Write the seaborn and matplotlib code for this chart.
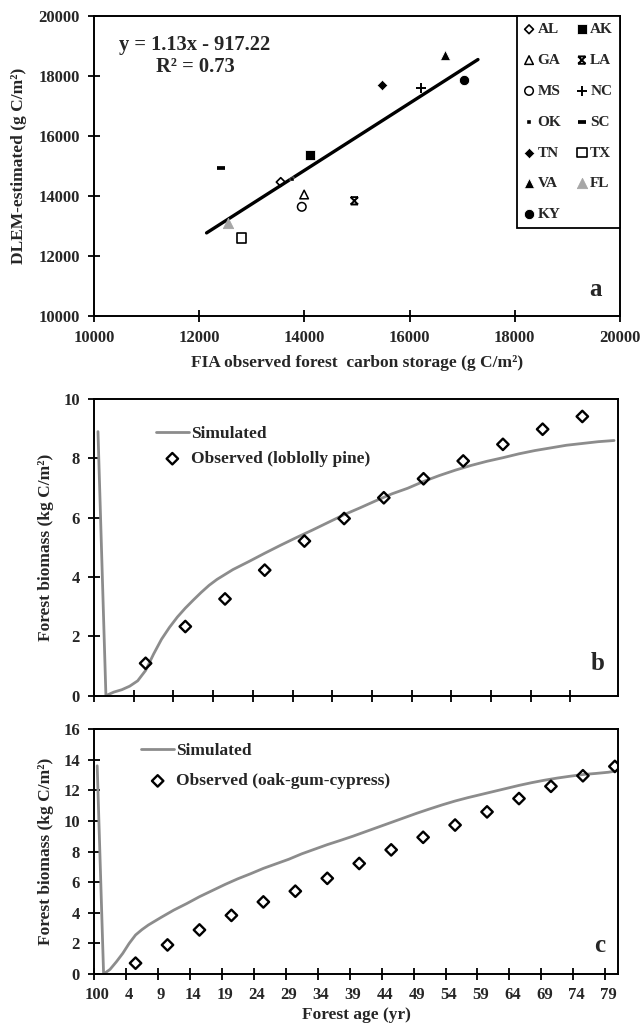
import matplotlib
matplotlib.use('Agg')
import matplotlib.pyplot as plt
from matplotlib.path import Path
import pandas as pd
import seaborn as sns

# Panel a: FIA observed vs DLEM-estimated carbon storage by state (g C/m2)
states = ['AL', 'AK', 'GA', 'LA', 'MS', 'NC', 'OK', 'SC', 'TN', 'TX', 'VA', 'FL', 'KY']
fia_obs = [13550, 14100, 13995, 14950, 13950, 16225, 13760, 12405, 15475, 12805, 16670, 12540, 17040]
dlem_est = [14455, 15345, 14040, 13830, 13630, 17605, 14545, 14920, 17695, 12595, 18675, 13100, 17850]
fit_x = [12140, 17300]
fit_y = [12760, 18540]
fit_text = 'y = 1.13x - 917.22\nR\u00b2 = 0.73'

# Panels b and c: x is the category index on the forest age axis
# (index 0 = age 100 of the previous stand, index k = age k-1)
sim_b_pos = [0, 1, 2, 3, 4, 5, 6, 7, 8, 9, 10, 11, 12, 13, 14, 15, 17, 19, 21, 23, 25, 27, 29, 31, 33,
             35, 37, 39, 41, 43, 45, 47, 49, 51, 53, 55, 57, 59, 61, 63, 65]
sim_b_val = [8.9, 0.0, 0.12, 0.2, 0.32, 0.5, 0.85, 1.4, 1.9, 2.3, 2.65, 2.95, 3.22, 3.48, 3.72, 3.92,
             4.25, 4.52, 4.8, 5.07, 5.33, 5.58, 5.84, 6.1, 6.33, 6.57, 6.8, 6.99, 7.22, 7.42, 7.6,
             7.76, 7.9, 8.02, 8.15, 8.26, 8.35, 8.44, 8.5, 8.56, 8.6]
obs_b_pos = [6, 11, 16, 21, 26, 31, 36, 41, 46, 51, 56, 61]
obs_b_val = [1.09, 2.33, 3.26, 4.23, 5.21, 5.97, 6.67, 7.31, 7.91, 8.47, 8.98, 9.41]

sim_c_pos = [0, 1, 2, 3, 4, 5, 6, 7, 8, 9, 10, 12, 14, 16, 18, 20, 22, 24, 26, 28, 30, 32, 34, 36, 38,
             40, 42, 44, 46, 48, 50, 52, 54, 56, 58, 60, 62, 64, 66, 68, 70, 72, 74, 76, 78, 80, 81]
sim_c_val = [13.6, 0.0, 0.3, 0.8, 1.35, 2.0, 2.55, 2.9, 3.2, 3.45, 3.7, 4.18, 4.6, 5.05, 5.45, 5.85,
             6.22, 6.55, 6.9, 7.2, 7.5, 7.85, 8.15, 8.45, 8.72, 9.0, 9.3, 9.6, 9.9, 10.2, 10.5, 10.78,
             11.05, 11.3, 11.52, 11.72, 11.92, 12.12, 12.32, 12.5, 12.66, 12.8, 12.92, 13.03, 13.1,
             13.18, 13.25]
obs_c_pos = [6, 11, 16, 21, 26, 31, 36, 41, 46, 51, 56, 61, 66, 71, 76, 81]
obs_c_val = [0.71, 1.90, 2.88, 3.83, 4.71, 5.41, 6.25, 7.22, 8.11, 8.93, 9.73, 10.59, 11.46, 12.26,
             12.95, 13.56]

age_tick_pos = [0, 5, 10, 15, 20, 25, 30, 35, 40, 45, 50, 55, 60, 65, 70, 75, 80]
age_tick_labels = ['100', '4', '9', '14', '19', '24', '29', '34', '39', '44', '49', '54', '59',
                   '64', '69', '74', '79']

sns.set_theme(style='white')
plt.rcParams['font.family'] = ['Liberation Serif', 'DejaVu Serif']
plt.rcParams['font.weight'] = 'bold'
plt.rcParams['axes.labelweight'] = 'bold'
plt.rcParams['axes.edgecolor'] = 'black'
plt.rcParams['axes.linewidth'] = 1.4

# LA marker: an x closed by bars on top and bottom
la_marker = Path([(-1, -1), (1, 1), (-1, 1), (1, -1), (-1, 1), (1, 1), (-1, -1), (1, -1)],
                 [Path.MOVETO, Path.LINETO] * 4)

GRAY_LINE = '#8c8c8c'
marker_style = {
    'AL': dict(marker='D', s=20, facecolors='none', edgecolor='black', linewidths=1.2),
    'AK': dict(marker='s', s=50, color='black'),
    'GA': dict(marker='^', s=38, facecolors='none', edgecolor='black', linewidths=1.1),
    'LA': dict(marker=la_marker, s=28, facecolors='none', edgecolor='black', linewidths=1.4),
    'MS': dict(marker='o', s=38, facecolors='none', edgecolor='black', linewidths=1.1),
    'NC': dict(marker='+', s=50, color='black', linewidths=1.4),
    'OK': dict(marker='s', s=11, color='black'),
    'SC': dict(marker='_', s=36, color='black', linewidths=2.7),
    'TN': dict(marker='D', s=28, color='black'),
    'TX': dict(marker='s', s=48, facecolors='none', edgecolor='black', linewidths=1.2),
    'VA': dict(marker='^', s=55, color='black'),
    'FL': dict(marker='^', s=55, color='#a6a6a6', edgecolor='#a6a6a6'),
    'KY': dict(marker='o', s=55, color='black'),
}
legend_order = ['AL', 'GA', 'MS', 'OK', 'TN', 'VA', 'KY', 'AK', 'LA', 'NC', 'SC', 'TX', 'FL']

df_a = pd.DataFrame({'state': states, 'fia': fia_obs, 'dlem': dlem_est})
df_fit = pd.DataFrame({'x': fit_x, 'y': fit_y})

fig = plt.figure(figsize=(6.43, 10.28), dpi=100)
ax_a = fig.add_axes([0.1462, 0.6929, 0.818, 0.2918])
ax_b = fig.add_axes([0.1462, 0.3233, 0.815, 0.2886])
ax_c = fig.add_axes([0.1462, 0.0525, 0.815, 0.2383])

# ---- panel a ----
sns.lineplot(data=df_fit, x='x', y='y', color='black', linewidth=2.4, ax=ax_a, legend=False)
for st in states:
    sub = df_a[df_a['state'] == st]
    sns.scatterplot(data=sub, x='fia', y='dlem', ax=ax_a, label=st, zorder=3, **marker_style[st])
h, l = ax_a.get_legend_handles_labels()
hmap = dict(zip(l, h))
leg = ax_a.legend([hmap[s] for s in legend_order], legend_order, ncol=2, loc='upper right',
                  bbox_to_anchor=(1.0, 1.0), borderaxespad=0, frameon=True, fancybox=False,
                  edgecolor='black', framealpha=1, fontsize=11, labelspacing=1.12,
                  handletextpad=0.2, columnspacing=1.0, borderpad=0.45, handlelength=0.7)
leg.get_frame().set_linewidth(1.3)
ax_a.text(0.192, 0.935, fit_text, transform=ax_a.transAxes, ha='center', va='top',
          fontsize=14.8, fontweight='bold', linespacing=1.15, multialignment='center')
ax_a.text(0.965, 0.05, 'a', transform=ax_a.transAxes, ha='right', va='bottom',
          fontsize=18, fontweight='bold')
ax_a.set_xlim(10000, 20000)
ax_a.set_ylim(10000, 20000)
ax_a.set_xticks(range(10000, 20001, 2000))
ax_a.set_yticks(range(10000, 20001, 2000))
ax_a.set_xlabel('FIA observed forest  carbon storage (g C/m\u00b2)', fontsize=12.5)
ax_a.set_ylabel('DLEM-estimated (g C/m\u00b2)', fontsize=12.5)
ax_a.xaxis.set_label_coords(0.5, -0.13)
ax_a.yaxis.set_label_coords(-0.127, 0.5)


def style_age_panel(ax, sim_pos, sim_val, obs_pos, obs_val, obs_label, n_cat, ymax, letter,
                    leg_anchor, leg_spacing):
    sim = pd.DataFrame({'pos': sim_pos, 'val': sim_val})
    obs = pd.DataFrame({'pos': obs_pos, 'val': obs_val})
    sns.lineplot(data=sim, x='pos', y='val', color=GRAY_LINE, linewidth=2.0, ax=ax,
                 label='Simulated')
    sns.scatterplot(data=obs, x='pos', y='val', marker='D', s=34, facecolors='none',
                    edgecolor='black', linewidths=1.7, ax=ax, label=obs_label, zorder=3)
    ax.legend(loc='upper left', bbox_to_anchor=leg_anchor, borderaxespad=0, borderpad=0,
              frameon=False, fontsize=12.5, labelspacing=leg_spacing, handlelength=1.9,
              handletextpad=0.1)
    ax.set_xlim(-0.5, n_cat - 0.5)
    ax.set_ylim(0, ymax)
    ax.set_yticks(range(0, ymax + 1, 2))
    ax.set_xticks([p - 0.5 for p in range(0, n_cat - 1, 5)], minor=True)
    ax.set_ylabel('Forest biomass (kg C/m\u00b2)', fontsize=12.5)
    ax.yaxis.set_label_coords(-0.076, 0.5)
    ax.text(0.975, 0.07, letter, transform=ax.transAxes, ha='right', va='bottom',
            fontsize=18, fontweight='bold')
    ax.tick_params(axis='x', which='minor', direction='inout', length=8, width=1.3,
                   bottom=True, color='black')
    ax.tick_params(axis='x', which='major', length=0, pad=9.5, labelsize=12)


style_age_panel(ax_b, sim_b_pos, sim_b_val, obs_b_pos, obs_b_val, 'Observed (loblolly pine)',
                66, 10, 'b', (0.118, 0.908), 0.5)
ax_b.set_xticks([])
ax_b.set_xlabel('')

style_age_panel(ax_c, sim_c_pos, sim_c_val, obs_c_pos, obs_c_val, 'Observed (oak-gum-cypress)',
                82, 16, 'c', (0.09, 0.942), 0.8)
ax_c.set_xticks(age_tick_pos)
ax_c.set_xticklabels(age_tick_labels)
ax_c.set_xlabel('Forest age (yr)', fontsize=12.5)
ax_c.xaxis.set_label_coords(0.5, -0.135)

for ax in (ax_a, ax_b, ax_c):
    ax.tick_params(axis='y', direction='inout', length=8, width=1.3, left=True, pad=6,
                   labelsize=12, color='black')
    for sp in ax.spines.values():
        sp.set_linewidth(1.4)
        sp.set_color('black')
ax_a.tick_params(axis='x', direction='inout', length=8, width=1.3, bottom=True, pad=6,
                 labelsize=12, color='black')
ax_c.tick_params(axis='x', which='major', length=0)

fig.savefig('out.png', dpi=100)
